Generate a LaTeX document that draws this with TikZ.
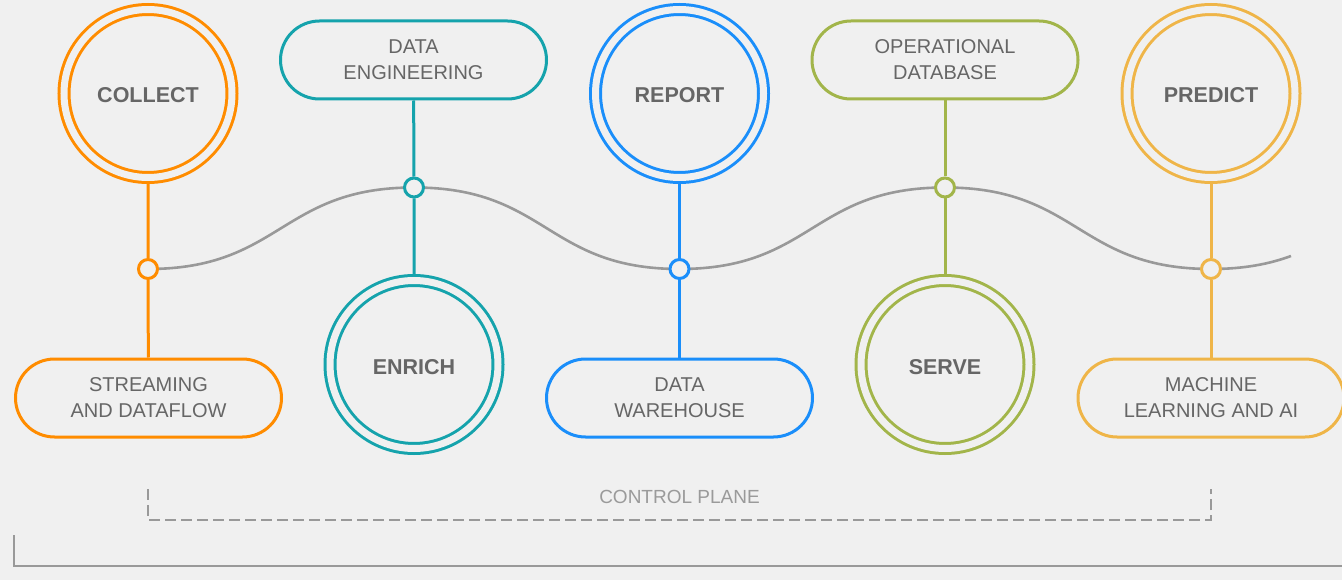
\documentclass[tikz,border=0pt]{standalone}
\usepackage{fontspec}
\setmainfont{Liberation Sans}
\definecolor{bgc}{HTML}{F0F0F0}
\definecolor{txt}{HTML}{666666}
\definecolor{lighttxt}{HTML}{9A9A9A}
\definecolor{wavec}{HTML}{999999}
\definecolor{corange}{HTML}{FF8C00}
\definecolor{cteal}{HTML}{15A3AC}
\definecolor{cblue}{HTML}{1A8EFA}
\definecolor{cgreen}{HTML}{A2B54A}
\definecolor{cyellow}{HTML}{EFB548}
\pgfdeclarelayer{bglayer}
\pgfdeclarelayer{linelayer}
\pgfsetlayers{bglayer,linelayer,main}
\begin{document}
\begin{tikzpicture}[x=1pt,y=-1pt,
  ring/.style={circle, draw=#1, line width=3pt, double=bgc, double distance=7pt, fill=bgc,
    minimum size=168pt, inner sep=0pt, text height=19pt, text depth=0pt,
    font=\fontsize{21.5}{25}\selectfont\bfseries, text=txt},
  pill/.style={rectangle, draw=#1, line width=3pt, fill=bgc, rounded corners=39pt,
    minimum width=266pt, minimum height=78pt, align=center, inner sep=0pt,
    font=\fontsize{20}{26}\selectfont, text=txt},
  joint/.style={circle, draw=#1, line width=3pt, fill=bgc, minimum size=19pt, inner sep=0pt},
  conn/.style={draw=#1, line width=3pt},
  wave/.style={draw=wavec, line width=2.6pt},
  frame/.style={draw=wavec, line width=2.6pt},
  dashframe/.style={draw=wavec, line width=2.4pt, dash pattern=on 11pt off 5pt},
]
\begin{pgfonlayer}{bglayer}
  \fill[bgc] (0,0) rectangle (1342,580);
\end{pgfonlayer}
\useasboundingbox (0,0) rectangle (1342,580);

% rings
\node[ring=corange] (collect) at (148,93.5) {COLLECT};
\node[ring=cteal]   (enrich)  at (414,364.5) {ENRICH};
\node[ring=cblue]   (report)  at (679.5,93.5) {REPORT};
\node[ring=cgreen]  (serve)   at (945,364.5) {SERVE};
\node[ring=cyellow] (predict) at (1211,93.5) {PREDICT};

% pills
\node[pill=corange] (stream) at (148.5,398) {STREAMING\\AND DATAFLOW};
\node[pill=cteal]   (dataeng) at (413.5,60) {DATA\\ENGINEERING};
\node[pill=cblue]   (dwh) at (679.5,398) {DATA\\WAREHOUSE};
\node[pill=cgreen]  (opdb) at (945,60) {OPERATIONAL\\DATABASE};
\node[pill=cyellow] (ml) at (1211,398) {MACHINE\\LEARNING AND AI};

% joints
\node[joint=corange] (j1) at (148,269) {};
\node[joint=cteal]   (j2) at (414,187.5) {};
\node[joint=cblue]   (j3) at (679.5,269) {};
\node[joint=cgreen]  (j4) at (945,187.5) {};
\node[joint=cyellow] (j5) at (1211,269) {};
\coordinate (wend) at (1291,256);

\begin{pgfonlayer}{linelayer}
  \draw[wave] (j1.center) .. controls +(133,0) and +(-133,0) .. (j2.center)
    .. controls +(133,0) and +(-133,0) .. (j3.center)
    .. controls +(133,0) and +(-133,0) .. (j4.center)
    .. controls +(133,0) and +(-133,0) .. (j5.center)
    .. controls +(33.6,0) and +(-21.2,7.8) .. (wend);
  \draw[conn=corange] (collect) -- (j1) -- (stream);
  \draw[conn=cteal]   (dataeng) -- (j2) -- (enrich);
  \draw[conn=cblue]   (report) -- (j3) -- (dwh);
  \draw[conn=cgreen]  (opdb) -- (j4) -- (serve);
  \draw[conn=cyellow] (predict) -- (j5) -- (ml);
\end{pgfonlayer}

% control plane
\node[text=lighttxt, font=\fontsize{19}{23}\selectfont] (cp) at (679.5,497) {CONTROL PLANE};
\coordinate (c1) at (148,489);
\coordinate (c2) at (148,520);
\coordinate (c3) at (1211,520);
\coordinate (c4) at (1211,489);
\draw[dashframe] (c1) -- (c2) -- (c3) -- (c4);

% bottom bracket
\coordinate (b1) at (14,535);
\coordinate (b2) at (14,566);
\coordinate (b3) at (1345,566);
\draw[frame] (b1) -- (b2) -- (b3);
\end{tikzpicture}
\end{document}
